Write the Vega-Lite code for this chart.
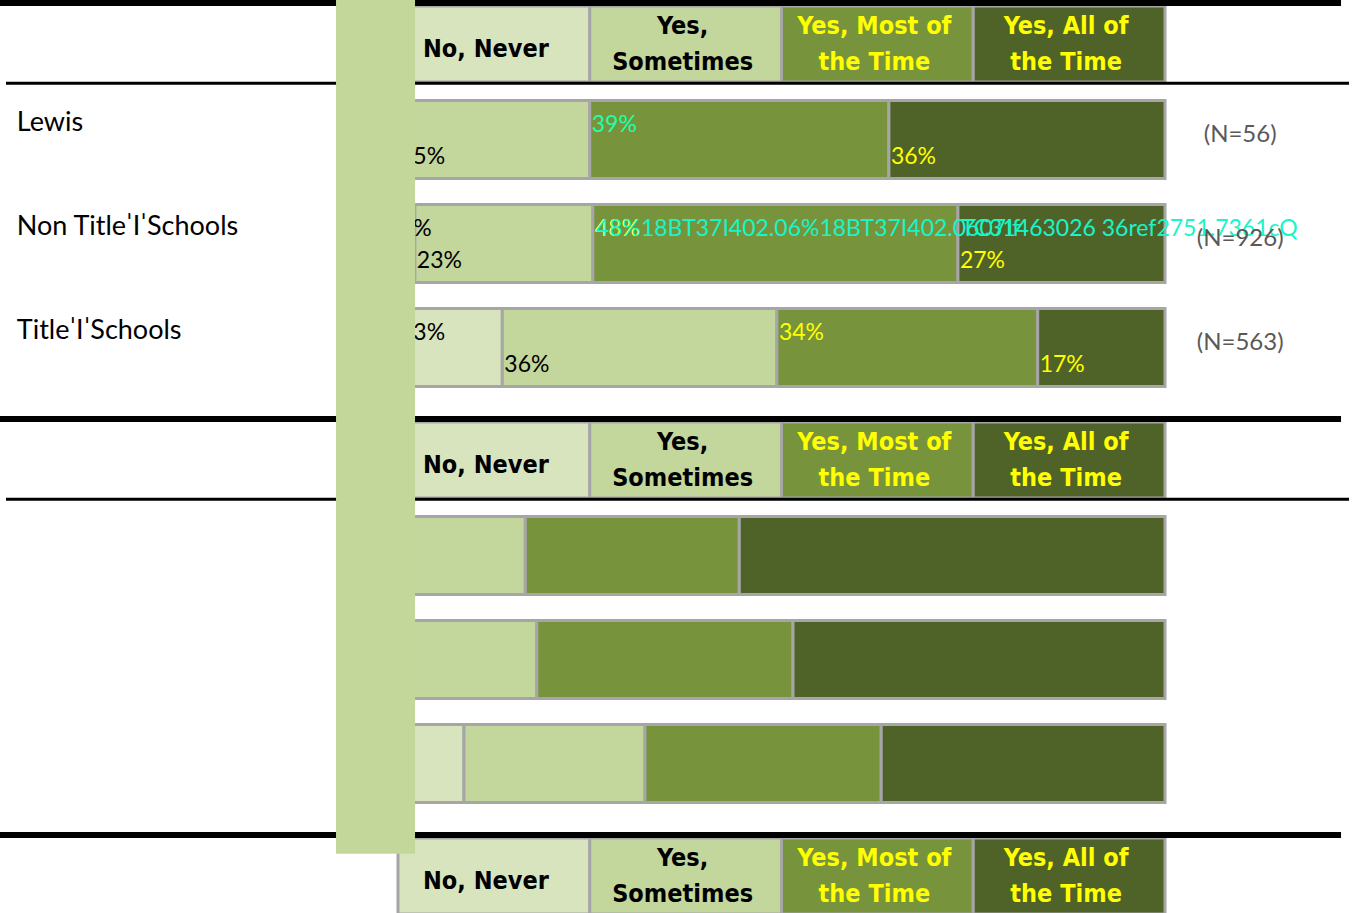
{
  "$schema": "https://vega.github.io/schema/vega-lite/v6.json",
  "width": 1353,
  "height": 913,
  "autosize": {"type": "none"},
  "padding": 0,
  "background": "white",
  "config": {"view": {"stroke": null}},
  "datasets": {
    "segs": [
      {"slot": "h0", "seg": "Never", "pct": 25, "label": "No, Never"},
      {"slot": "h0", "seg": "Sometimes", "pct": 25, "label": "Yes,\nSometimes"},
      {"slot": "h0", "seg": "Most", "pct": 25, "label": "Yes, Most of\nthe Time"},
      {"slot": "h0", "seg": "All", "pct": 25, "label": "Yes, All of\nthe Time"},
      {"slot": "h4", "seg": "Never", "pct": 25, "label": "No, Never"},
      {"slot": "h4", "seg": "Sometimes", "pct": 25, "label": "Yes,\nSometimes"},
      {"slot": "h4", "seg": "Most", "pct": 25, "label": "Yes, Most of\nthe Time"},
      {"slot": "h4", "seg": "All", "pct": 25, "label": "Yes, All of\nthe Time"},
      {"slot": "h8", "seg": "Never", "pct": 25, "label": "No, Never"},
      {"slot": "h8", "seg": "Sometimes", "pct": 25, "label": "Yes,\nSometimes"},
      {"slot": "h8", "seg": "Most", "pct": 25, "label": "Yes, Most of\nthe Time"},
      {"slot": "h8", "seg": "All", "pct": 25, "label": "Yes, All of\nthe Time"},
      {"slot": "r1", "seg": "Never", "pct": 0, "label": ""},
      {"slot": "r1", "seg": "Sometimes", "pct": 25, "label": "25%"},
      {"slot": "r1", "seg": "Most", "pct": 39, "label": "39%"},
      {"slot": "r1", "seg": "All", "pct": 36, "label": "36%"},
      {"slot": "r2", "seg": "Never", "pct": 2.2, "label": "2%"},
      {"slot": "r2", "seg": "Sometimes", "pct": 23.2, "label": "23%"},
      {"slot": "r2", "seg": "Most", "pct": 47.6, "label": "48%", "glitch": "48%18BT37I402.06%18BT37I402.0607If"},
      {"slot": "r2", "seg": "All", "pct": 27, "label": "27%", "glitch": "TC31463026 36ref2751.7361cQ"},
      {"slot": "r3", "seg": "Never", "pct": 13.6, "label": "13%"},
      {"slot": "r3", "seg": "Sometimes", "pct": 35.8, "label": "36%"},
      {"slot": "r3", "seg": "Most", "pct": 34, "label": "34%"},
      {"slot": "r3", "seg": "All", "pct": 16.6, "label": "17%"},
      {"slot": "r5", "seg": "Never", "pct": 0, "label": ""},
      {"slot": "r5", "seg": "Sometimes", "pct": 16.6, "label": ""},
      {"slot": "r5", "seg": "Most", "pct": 27.9, "label": ""},
      {"slot": "r5", "seg": "All", "pct": 55.5, "label": ""},
      {"slot": "r6", "seg": "Never", "pct": 2, "label": ""},
      {"slot": "r6", "seg": "Sometimes", "pct": 16.1, "label": ""},
      {"slot": "r6", "seg": "Most", "pct": 33.4, "label": ""},
      {"slot": "r6", "seg": "All", "pct": 48.5, "label": ""},
      {"slot": "r7", "seg": "Never", "pct": 8.6, "label": ""},
      {"slot": "r7", "seg": "Sometimes", "pct": 23.6, "label": ""},
      {"slot": "r7", "seg": "Most", "pct": 30.8, "label": ""},
      {"slot": "r7", "seg": "All", "pct": 37.0, "label": ""}
    ],
    "rowNames": [
      {"slot": "r1", "name": "Lewis", "n": "(N=56)"},
      {"slot": "r2", "name": "Non Title\u02c8I\u02c8Schools", "n": "(N=926)"},
      {"slot": "r3", "name": "Title\u02c8I\u02c8Schools", "n": "(N=563)"}
    ],
    "heads": [{"slot": "h0"}, {"slot": "h4"}, {"slot": "h8"}]
  },
  "encoding": {
    "y": {
      "field": "slot",
      "type": "nominal",
      "scale": {
        "domain": ["h0", "r1", "r2", "r3", "h4", "r5", "r6", "r7", "h8"],
        "range": [-16.5, 919.5],
        "paddingInner": 0,
        "paddingOuter": 0
      },
      "axis": null
    }
  },
  "layer": [
    {
      "data": {"name": "segs"},
      "transform": [
        {"filter": "indexof(datum.slot, 'r') === 0"},
        {"calculate": "indexof(['Never','Sometimes','Most','All'], datum.seg)", "as": "ord"},
        {"stack": "pct", "groupby": ["slot"], "sort": [{"field": "ord"}], "as": ["x0", "x1"]}
      ],
      "mark": {"type": "bar", "height": 78, "stroke": "#a6a6a6", "strokeWidth": 3},
      "encoding": {
        "x": {"field": "x0", "type": "quantitative", "scale": {"domain": [-51.89, 124.51], "nice": false, "zero": false}, "axis": null},
        "x2": {"field": "x1"},
        "color": {
          "field": "seg",
          "type": "nominal",
          "scale": {"domain": ["Never", "Sometimes", "Most", "All"], "range": ["#d7e4bd", "#c3d69b", "#77933c", "#4f6228"]},
          "legend": null
        }
      }
    },
    {
      "data": {"name": "segs"},
      "transform": [
        {"filter": "indexof(datum.slot, 'h') === 0"},
        {"calculate": "indexof(['Never','Sometimes','Most','All'], datum.seg)", "as": "ord"},
        {"stack": "pct", "groupby": ["slot"], "sort": [{"field": "ord"}], "as": ["x0", "x1"]}
      ],
      "mark": {"type": "bar", "height": 76, "yOffset": 8.5, "stroke": "#a6a6a6", "strokeWidth": 3},
      "encoding": {
        "x": {"field": "x0", "type": "quantitative"},
        "x2": {"field": "x1"},
        "color": {"field": "seg", "type": "nominal"}
      }
    },
    {
      "data": {"name": "heads"},
      "mark": {"type": "rule", "color": "black", "strokeWidth": 6, "yOffset": -32.5},
      "encoding": {
        "x": {"datum": -51.89, "type": "quantitative"},
        "x2": {"datum": 122.95}
      }
    },
    {
      "data": {"name": "heads"},
      "mark": {"type": "rule", "color": "black", "strokeWidth": 3, "yOffset": 47.8},
      "encoding": {
        "x": {"datum": -51.11, "type": "quantitative"},
        "x2": {"datum": 123.99}
      }
    },
    {
      "data": {"name": "segs"},
      "transform": [
        {"filter": "indexof(datum.slot, 'h') === 0"},
        {"calculate": "indexof(['Never','Sometimes','Most','All'], datum.seg)", "as": "ord"},
        {"stack": "pct", "groupby": ["slot"], "sort": [{"field": "ord"}], "as": ["x0", "x1"]},
        {"calculate": "(datum.x0 + datum.x1) / 2", "as": "xm"},
        {"filter": "datum.ord === 0"}
      ],
      "mark": {"type": "text", "font": "DejaVu Sans Condensed, Roboto Condensed, Roboto, sans-serif", "fontWeight": "bold", "fontSize": 25, "align": "center", "baseline": "middle", "yOffset": 13, "dx": -8},
      "encoding": {
        "x": {"field": "xm", "type": "quantitative"},
        "text": {"field": "label"},
        "color": {"value": "black"}
      }
    },
    {
      "data": {"name": "segs"},
      "transform": [
        {"filter": "indexof(datum.slot, 'h') === 0"},
        {"calculate": "indexof(['Never','Sometimes','Most','All'], datum.seg)", "as": "ord"},
        {"stack": "pct", "groupby": ["slot"], "sort": [{"field": "ord"}], "as": ["x0", "x1"]},
        {"calculate": "(datum.x0 + datum.x1) / 2", "as": "xm"},
        {"filter": "datum.ord > 0"}
      ],
      "mark": {"type": "text", "font": "DejaVu Sans Condensed, Roboto Condensed, Roboto, sans-serif", "fontWeight": "bold", "fontSize": 25, "lineHeight": 36, "lineBreak": "\n", "align": "center", "baseline": "middle", "yOffset": -10, "dx": -3},
      "encoding": {
        "x": {"field": "xm", "type": "quantitative"},
        "text": {"field": "label"},
        "color": {"condition": {"test": "datum.ord >= 2", "value": "#ffff00"}, "value": "black"}
      }
    },
    {
      "data": {"name": "segs"},
      "transform": [
        {"filter": "indexof(datum.slot, 'r') === 0 && datum.label !== ''"},
        {"calculate": "indexof(['Never','Sometimes','Most','All'], datum.seg)", "as": "ord"},
        {"stack": "pct", "groupby": ["slot"], "sort": [{"field": "ord"}], "as": ["x0", "x1"]},
        {"filter": "datum.ord === 0 || datum.ord === 2"}
      ],
      "mark": {"type": "text", "font": "Lato", "fontSize": 23, "align": "left", "baseline": "middle", "dx": 2, "yOffset": -15},
      "encoding": {
        "x": {"field": "x0", "type": "quantitative"},
        "text": {"field": "label"},
        "color": {"condition": [{"test": "datum.slot === 'r1' && datum.seg === 'Most'", "value": "#22ffaa"}, {"test": "datum.ord >= 2", "value": "#ffff00"}], "value": "black"}
      }
    },
    {
      "data": {"name": "segs"},
      "transform": [
        {"filter": "indexof(datum.slot, 'r') === 0"},
        {"calculate": "indexof(['Never','Sometimes','Most','All'], datum.seg)", "as": "ord"},
        {"stack": "pct", "groupby": ["slot"], "sort": [{"field": "ord"}], "as": ["x0", "x1"]},
        {"filter": "(datum.ord === 1 || datum.ord === 3) && datum.label !== ''"}
      ],
      "mark": {"type": "text", "font": "Lato", "fontSize": 23, "align": "left", "baseline": "middle", "dx": 2, "yOffset": 17},
      "encoding": {
        "x": {"field": "x0", "type": "quantitative"},
        "text": {"field": "label"},
        "color": {"condition": {"test": "datum.ord >= 2", "value": "#ffff00"}, "value": "black"}
      }
    },
    {
      "data": {"name": "segs"},
      "transform": [
        {"filter": "indexof(datum.slot, 'r') === 0"},
        {"calculate": "indexof(['Never','Sometimes','Most','All'], datum.seg)", "as": "ord"},
        {"stack": "pct", "groupby": ["slot"], "sort": [{"field": "ord"}], "as": ["x0", "x1"]},
        {"filter": "isValid(datum.glitch)"}
      ],
      "mark": {"type": "text", "font": "Lato", "fontSize": 23, "align": "left", "baseline": "middle", "dx": 3, "yOffset": -15, "color": "#19f5c8"},
      "encoding": {
        "x": {"field": "x0", "type": "quantitative"},
        "text": {"field": "glitch"}
      }
    },
    {
      "data": {"name": "rowNames"},
      "mark": {"type": "text", "font": "Lato", "fontSize": 27, "align": "left", "baseline": "middle", "yOffset": -17, "color": "black"},
      "encoding": {
        "x": {"datum": -49.7, "type": "quantitative"},
        "text": {"field": "name"}
      }
    },
    {
      "data": {"name": "rowNames"},
      "mark": {"type": "text", "font": "Lato", "fontSize": 24, "align": "center", "baseline": "middle", "yOffset": -5, "color": "#595959"},
      "encoding": {
        "x": {"datum": 109.8, "type": "quantitative"},
        "text": {"field": "n"}
      }
    },
    {
      "data": {"values": [{"part": "column"}]},
      "mark": {"type": "rect", "color": "#c4d79b", "y2Offset": 38.2},
      "encoding": {
        "x": {"datum": -8.08, "type": "quantitative"},
        "x2": {"datum": 2.22},
        "y": {"datum": "h0", "type": "nominal", "bandPosition": 0},
        "y2": {"datum": "h8", "bandPosition": 0}
      }
    }
  ]
}
